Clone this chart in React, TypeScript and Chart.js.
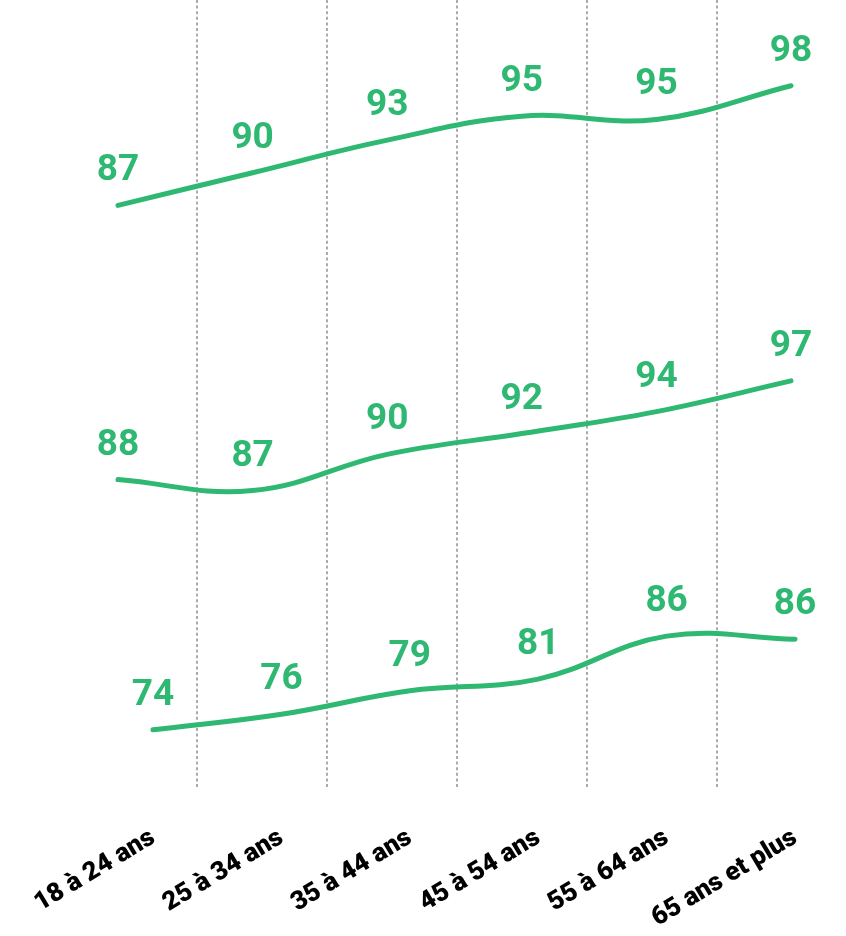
import React, { useEffect, useRef } from "react";
import { Chart, registerables } from "chart.js";

Chart.register(...registerables);

const categories = [
  "18 à 24 ans",
  "25 à 34 ans",
  "35 à 44 ans",
  "45 à 54 ans",
  "55 à 64 ans",
  "65 ans et plus",
];
const seriesTop = [87, 90, 93, 95.2, 94.9, 98];
const seriesMiddle = [88, 87, 90.3, 92.2, 94.2, 97];
const seriesBottom = [74, 76, 79, 80.5, 86, 85.6];
const tickIndices = [0, 1, 2, 3, 4, 5];
const gridPositions = [1, 2, 3, 4, 5];

const GREEN = "#2eb872";

const toPoints = (arr: number[]) => arr.map((v, i) => ({ x: i, y: v }));

const valueLabels = {
  id: "valueLabels",
  afterDatasetsDraw(chart: any) {
    const ctx = chart.ctx;
    ctx.save();
    ctx.font = "bold 37px Roboto";
    ctx.fillStyle = GREEN;
    ctx.textAlign = "center";
    ctx.textBaseline = "alphabetic";
    chart.data.datasets.forEach((ds: any, di: number) => {
      const meta = chart.getDatasetMeta(di);
      meta.data.forEach((pt: any, i: number) => {
        const v = ds.data[i].y;
        ctx.fillText(String(Math.round(v)), pt.x, pt.y - 25);
      });
    });
    ctx.restore();
  },
};

export default function App() {
  const canvasRef = useRef<HTMLCanvasElement | null>(null);

  useEffect(() => {
    if (!canvasRef.current) return;
    const lineStyle = {
      borderColor: GREEN,
      borderWidth: 5,
      tension: 0.4,
      pointRadius: 0,
      pointHoverRadius: 0,
      fill: false,
      borderCapStyle: "round" as const,
      borderJoinStyle: "round" as const,
      clip: false as const,
    };
    const chart = new Chart(canvasRef.current, {
      type: "line",
      data: {
        datasets: [
          { ...lineStyle, label: "top", data: toPoints(seriesTop), xAxisID: "xLines", yAxisID: "yTop" },
          { ...lineStyle, label: "middle", data: toPoints(seriesMiddle), xAxisID: "xLines", yAxisID: "yMid" },
          { ...lineStyle, label: "bottom", data: toPoints(seriesBottom), xAxisID: "x", yAxisID: "yBot" },
        ],
      },
      options: {
        animation: false,
        responsive: true,
        maintainAspectRatio: false,
        layout: { padding: 0 },
        plugins: {
          legend: { display: false },
          tooltip: { enabled: false },
        },
        events: [],
        scales: {
          x: {
            type: "linear",
            position: "bottom",
            min: -1.1916,
            max: 5.397,
            afterBuildTicks: (scale: any) => {
              scale.ticks = tickIndices.map((v) => ({ value: v }));
            },
            grid: { display: false, drawTicks: true, tickLength: 33 },
            border: { display: false },
            ticks: {
              autoSkip: false,
              minRotation: 31,
              maxRotation: 31,
              padding: 2,
              color: "#000000",
              font: { family: "Roboto", weight: "900", size: 26 },
              callback: (v: any) => categories[v as number] ?? "",
            },
          },
          xLines: {
            type: "linear",
            display: false,
            min: -0.8767,
            max: 5.4086,
          },
          xGrid: {
            type: "linear",
            position: "top",
            min: -0.5154,
            max: 5.992,
            afterBuildTicks: (scale: any) => {
              scale.ticks = gridPositions.map((v) => ({ value: v }));
            },
            ticks: { display: false },
            grid: { color: "#ababab", lineWidth: 2, drawTicks: false },
            border: { display: false, dash: [3, 2.6] },
          },
          yTop: { type: "linear", display: false, min: 33.46, max: 105.88 },
          yMid: { type: "linear", display: false, min: 59.91, max: 131.73 },
          yBot: { type: "linear", display: false, min: 66.6, max: 167.45 },
        },
      },
      plugins: [valueLabels],
    } as any);
    return () => chart.destroy();
  }, []);

  return (
    <div style={{ position: "absolute", left: 0, top: 0, width: 846, height: 936, background: "#ffffff" }}>
      <canvas ref={canvasRef} />
    </div>
  );
}
